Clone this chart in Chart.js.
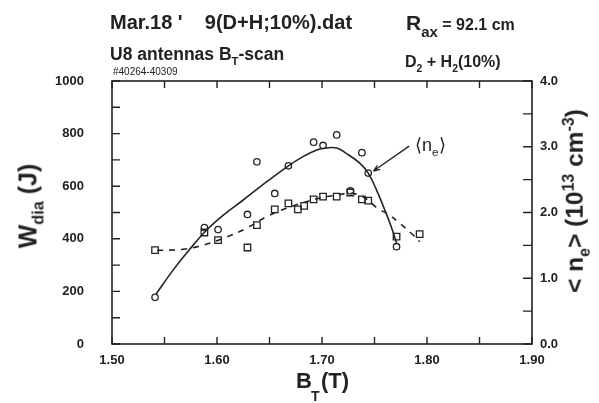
<!DOCTYPE html>
<html>
<head>
<meta charset="utf-8">
<script src="https://cdn.jsdelivr.net/npm/chart.js@4.4.0/dist/chart.umd.min.js"></script>
<style>
  body { margin: 0; background: #fff; }
  #wrap { position: relative; width: 599px; height: 403px; font-family: "Liberation Sans", Arial, sans-serif; color: #222; }
  #wrap canvas { position: absolute; left: 0; top: 0; }
  .t { position: absolute; white-space: nowrap; font-weight: bold; line-height: 1; }
  .sub { font-size: 0.65em; position: relative; top: 0.45em; }
  .sup { font-size: 0.65em; position: relative; top: -0.55em; }
  .rot { transform: translate(-50%, -50%) rotate(-90deg); }
</style>
</head>
<body>
<div id="wrap">
  <canvas id="chart" width="599" height="403"></canvas>

  <div class="t" style="left:110px; top:12px; font-size:20px;">Mar.18 '&nbsp;&nbsp;&nbsp; 9(D+H;10%).dat</div>
  <div class="t" style="left:406px; top:12px; font-size:16px;"><span style="font-size:21px">R</span><span class="sub" style="font-size:15px">ax</span> = 92.1 cm</div>
  <div class="t" style="left:110px; top:46px; font-size:17.5px;">U8 antennas B<span class="sub">T</span>-scan</div>
  <div class="t" style="left:113px; top:67px; font-size:10px; font-weight:normal;">#40264-40309</div>
  <div class="t" style="left:405px; top:54px; font-size:16px;">D<span class="sub">2</span> + H<span class="sub">2</span>(10%)</div>

  <div class="t rot" style="left:28px; top:206px; font-size:25px;">W<span class="sub">dia</span> (J)</div>
  <div class="t rot" style="left:575px; top:201px; font-size:24.5px;">&lt; n<span class="sub">e</span>&gt; (10<span class="sup">13</span> cm<span class="sup">-3</span>)</div>
  <div class="t" style="left:296px; top:370px; font-size:22px;">B<span style="display:inline-block; width:9px;"></span>(T)</div>
  <div class="t" style="left:311px; top:389px; font-size:14px;">T</div>
  <div class="t" style="left:415px; top:136px; font-size:18px; font-weight:normal;">⟨n<span class="sub">e</span>⟩</div>
</div>

<script>
// tick labels
const xTickLabels = ["1.50", "1.60", "1.70", "1.80", "1.90"];
const wTickLabels = ["0", "200", "400", "600", "800", "1000"];
const neTickLabels = ["0.0", "1.0", "2.0", "3.0", "4.0"];

// <n_e> measured (circles, right axis)
const neB = [1.541, 1.588, 1.601, 1.629, 1.638, 1.655, 1.668, 1.692, 1.701, 1.714, 1.727, 1.738, 1.744, 1.771];
const neVal = [0.71, 1.77, 1.74, 1.97, 2.77, 2.29, 2.71, 3.07, 3.02, 3.18, 2.33, 2.91, 2.60, 1.48];

// <n_e> fit curve (solid)
const neFitB = [1.542, 1.558, 1.574, 1.590, 1.606, 1.625, 1.641, 1.668, 1.682, 1.695, 1.704, 1.714, 1.723, 1.736, 1.744, 1.752, 1.761, 1.766, 1.771];
const neFit = [0.76, 1.12, 1.44, 1.73, 1.96, 2.19, 2.39, 2.71, 2.85, 2.95, 2.98, 2.98, 2.90, 2.75, 2.60, 2.34, 1.99, 1.78, 1.54];

// W_dia measured (squares, left axis)
const wB = [1.541, 1.588, 1.601, 1.629, 1.638, 1.655, 1.668, 1.677, 1.683, 1.692, 1.701, 1.714, 1.727, 1.738, 1.744, 1.771, 1.793];
const wVal = [357, 424, 395, 367, 452, 512, 535, 512, 525, 550, 560, 560, 576, 550, 545, 408, 418];

// W_dia fit curve (dashed)
const wFitB = [1.543, 1.568, 1.587, 1.606, 1.628, 1.647, 1.666, 1.685, 1.701, 1.714, 1.727, 1.739, 1.753, 1.764, 1.774, 1.785, 1.793];
const wFit = [356, 360, 376, 402, 440, 484, 516, 541, 558, 566, 573, 560, 516, 491, 459, 421, 389];

// label arrow for <n_e>, in (B, n_e)
const arrowFrom = [1.783, 3.01];
const arrowTo = [1.749, 2.63];

function pts(xs, ys) {
    return xs.map((x, i) => ({ x: x, y: ys[i] }));
}

function pickLabel(list, v) {
    const hit = list.find(s => Math.abs(parseFloat(s) - v) < 1e-6);
    return hit === undefined ? "" : hit;
}

const ink = "#222";

// frame, inward ticks and the label arrow
const framePlugin = {
    id: "frameTicks",
    afterDatasetsDraw(chart) {
        const ctx = chart.ctx;
        const a = chart.chartArea;
        const sx = chart.scales.x, sy = chart.scales.y, sy2 = chart.scales.y2;
        ctx.save();
        ctx.strokeStyle = ink;
        ctx.lineWidth = 1.6;
        ctx.strokeRect(a.left, a.top, a.right - a.left, a.bottom - a.top);
        ctx.lineWidth = 1.4;
        ctx.beginPath();
        sx.ticks.forEach(t => {
            const px = sx.getPixelForValue(t.value);
            ctx.moveTo(px, a.bottom); ctx.lineTo(px, a.bottom - 7);
            ctx.moveTo(px, a.top); ctx.lineTo(px, a.top + 7);
        });
        sy.ticks.forEach(t => {
            const py = sy.getPixelForValue(t.value);
            ctx.moveTo(a.left, py); ctx.lineTo(a.left + 8, py);
        });
        sy2.ticks.forEach(t => {
            const py = sy2.getPixelForValue(t.value);
            ctx.moveTo(a.right, py); ctx.lineTo(a.right - 9, py);
        });
        ctx.stroke();

        // arrow to the fit curve
        const x1 = sx.getPixelForValue(arrowFrom[0]), y1 = sy2.getPixelForValue(arrowFrom[1]);
        const x2 = sx.getPixelForValue(arrowTo[0]), y2 = sy2.getPixelForValue(arrowTo[1]);
        ctx.lineWidth = 1.3;
        ctx.beginPath();
        ctx.moveTo(x1, y1); ctx.lineTo(x2, y2);
        const ang = Math.atan2(y2 - y1, x2 - x1);
        ctx.moveTo(x2, y2); ctx.lineTo(x2 - 7 * Math.cos(ang - 0.35), y2 - 7 * Math.sin(ang - 0.35));
        ctx.moveTo(x2, y2); ctx.lineTo(x2 - 7 * Math.cos(ang + 0.35), y2 - 7 * Math.sin(ang + 0.35));
        ctx.stroke();
        ctx.restore();
    }
};

const tickFont = { family: "'Liberation Sans', Arial, sans-serif", size: 13, weight: "bold" };

new Chart(document.getElementById("chart").getContext("2d"), {
    type: "scatter",
    data: {
        datasets: [
            {
                label: "ne fit",
                data: pts(neFitB, neFit),
                yAxisID: "y2",
                showLine: true,
                tension: 0.4,
                borderColor: ink,
                borderWidth: 1.6,
                pointRadius: 0,
            },
            {
                label: "W fit",
                data: pts(wFitB, wFit),
                yAxisID: "y",
                showLine: true,
                tension: 0.4,
                borderColor: ink,
                borderWidth: 1.6,
                borderDash: [6, 6],
                pointRadius: 0,
            },
            {
                label: "ne",
                data: pts(neB, neVal),
                yAxisID: "y2",
                pointStyle: "circle",
                pointRadius: 3.2,
                borderColor: ink,
                borderWidth: 1.3,
                backgroundColor: "rgba(0,0,0,0)",
            },
            {
                label: "Wdia",
                data: pts(wB, wVal),
                yAxisID: "y",
                pointStyle: "rect",
                pointRadius: 4.6,
                borderColor: ink,
                borderWidth: 1.3,
                backgroundColor: "rgba(0,0,0,0)",
            },
        ],
    },
    options: {
        responsive: false,
        animation: false,
        layout: { padding: { top: 81, left: 0, right: 0, bottom: 0 } },
        plugins: { legend: { display: false }, tooltip: { enabled: false } },
        scales: {
            x: {
                type: "linear",
                min: 1.5,
                max: 1.9,
                grid: { display: false, drawTicks: false },
                border: { display: false },
                afterFit: s => { s.height = 59; },
                ticks: {
                    stepSize: 0.05,
                    autoSkip: false,
                    maxRotation: 0,
                    padding: 9,
                    color: ink,
                    font: tickFont,
                    callback: v => pickLabel(xTickLabels, v),
                },
            },
            y: {
                position: "left",
                min: 0,
                max: 1000,
                grid: { display: false, drawTicks: false },
                border: { display: false },
                afterFit: s => { s.width = 112; },
                ticks: {
                    stepSize: 100,
                    autoSkip: false,
                    padding: 28,
                    color: ink,
                    font: tickFont,
                    callback: v => pickLabel(wTickLabels, v),
                },
            },
            y2: {
                position: "right",
                min: 0,
                max: 4,
                grid: { display: false, drawTicks: false },
                border: { display: false },
                afterFit: s => { s.width = 67; },
                ticks: {
                    stepSize: 0.5,
                    autoSkip: false,
                    padding: 8,
                    color: ink,
                    font: tickFont,
                    callback: v => pickLabel(neTickLabels, v),
                },
            },
        },
    },
    plugins: [framePlugin],
});
</script>
</body>
</html>
